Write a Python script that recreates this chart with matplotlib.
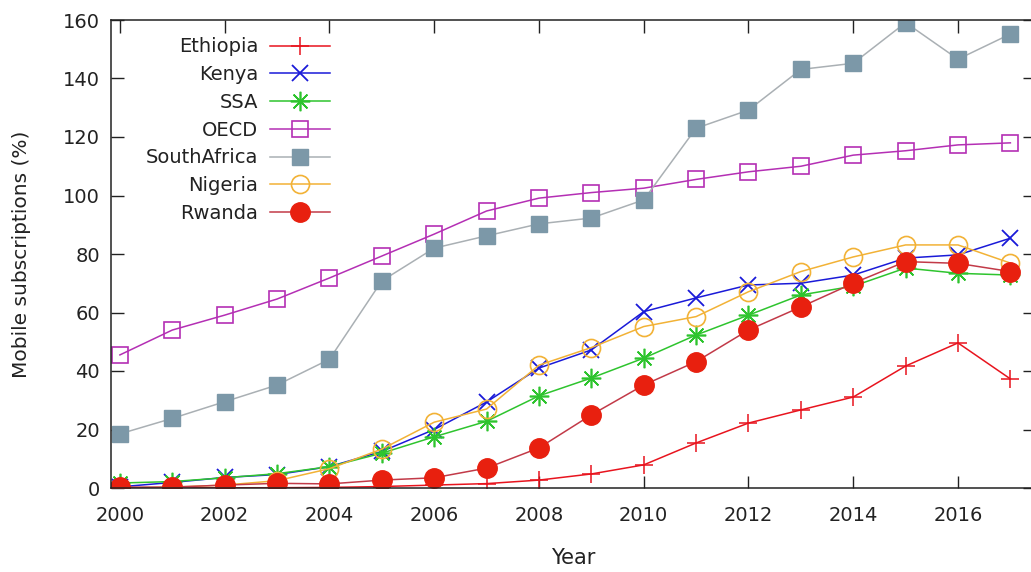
import matplotlib
matplotlib.use("Agg")
import matplotlib.pyplot as plt

years = list(range(2000, 2018))

ethiopia = [0.02, 0.04, 0.07, 0.1, 0.2, 0.5, 1.0, 1.5, 2.7, 4.8, 7.9, 15.4, 22.2, 26.7, 31.1, 41.7, 49.6, 37.3]
kenya = [0.4, 1.9, 3.6, 4.6, 7.3, 12.5, 20.0, 29.4, 41.0, 47.2, 60.3, 65.0, 69.4, 70.0, 72.8, 78.6, 79.7, 85.4]
ssa = [1.7, 2.2, 3.5, 4.9, 7.3, 11.9, 17.5, 22.8, 31.5, 37.6, 44.4, 52.3, 59.1, 66.0, 69.0, 75.2, 73.4, 72.8]
oecd = [45.5, 54.0, 59.1, 64.6, 71.8, 79.3, 86.8, 94.7, 99.1, 101.0, 102.5, 105.5, 108.1, 110.0, 113.8, 115.3, 117.3, 118.0]
south_africa = [18.5, 23.8, 29.5, 35.2, 44.0, 70.8, 82.0, 86.2, 90.3, 92.3, 98.5, 123.0, 129.2, 143.1, 145.2, 159.1, 146.6, 155.2]
nigeria = [0.0, 0.3, 1.0, 2.5, 6.6, 13.3, 22.5, 27.0, 42.0, 48.0, 55.2, 58.6, 67.1, 74.0, 79.0, 83.1, 83.1, 76.9]
rwanda = [0.3, 0.3, 1.0, 1.6, 1.4, 2.7, 3.5, 6.8, 13.7, 25.0, 35.2, 43.2, 54.0, 61.9, 70.0, 77.4, 76.8, 74.0]

fig = plt.figure(figsize=(10.31, 5.72), dpi=100)
W, H = 1031, 572
ax = fig.add_axes([111 / W, 84 / H, (1035 - 111) / W, 468 / H])

lw = 1.1
ax.plot(years, ethiopia, color="#e8141e", lw=lw, marker="+", ms=13, mew=1.1, label="Ethiopia")
ax.plot(years, kenya, color="#1a1ad8", lw=lw, marker="x", ms=12, mew=1.3, label="Kenya")
ax.plot(years, ssa, color="#2ec42e", lw=lw, marker=(8, 2, 0), ms=14, mew=1.2, label="SSA")
ax.plot(years, oecd, color="#b42fb4", lw=lw, marker="s", ms=12, mfc="none", mec="#b42fb4",
        mew=1.2, label="OECD")
ax.plot(years, south_africa, color="#aab0b4", lw=lw, marker="s", ms=12, mfc="#7c98a8",
        mec="#7c98a8", label="SouthAfrica")
ax.plot(years, nigeria, color="#f2b236", lw=lw, marker="o", ms=13, mfc="none", mec="#f2b236",
        mew=1.2, label="Nigeria")
ax.plot(years, rwanda, color="#c23a48", lw=lw, marker="o", ms=14, mfc="#e8200f", mec="#e8200f",
        label="Rwanda")

ax.set_xlim(1999.83, 2017.47)
ax.set_ylim(0, 160)
ax.set_xticks(range(2000, 2017, 2))
ax.set_yticks(range(0, 161, 20))
ax.tick_params(direction="in", length=9, width=1, top=True, right=True,
               labelsize=14, colors="#222222")
ax.tick_params(axis="x", pad=13)
ax.tick_params(axis="y", pad=8)
for s in ax.spines.values():
    s.set_linewidth(1.1)
    s.set_color("#222222")

ax.set_xlabel("Year", fontsize=15, color="#222222")
ax.set_ylabel("Mobile subscriptions (%)", fontsize=14.5, color="#222222")
ax.xaxis.set_label_coords(0.5, -0.128)
ax.yaxis.set_label_coords(-0.087, 0.5)

leg = ax.legend(loc="upper right", bbox_to_anchor=(0.237, 0.963), markerfirst=False,
                frameon=False, fontsize=14, handlelength=3.1, handletextpad=0.6,
                labelspacing=0.45, borderpad=0, borderaxespad=0)
for t in leg.get_texts():
    t.set_color("#222222")

fig.savefig("out.png", dpi=100)
